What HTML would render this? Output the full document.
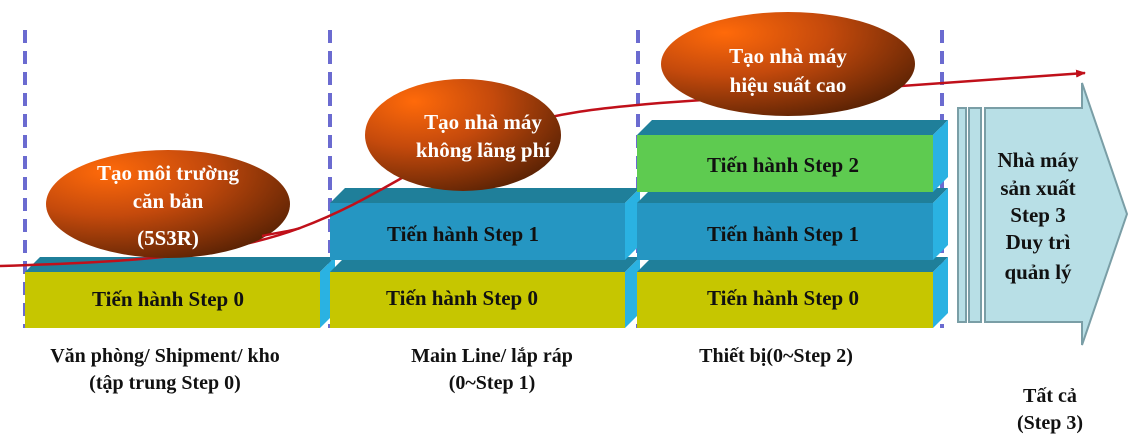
<!DOCTYPE html>
<html><head><meta charset="utf-8"><style>
html,body{margin:0;padding:0;background:#fff;}
svg{display:block;}
text{font-family:"Liberation Serif","Noto Serif CJK SC",serif;font-weight:bold;}
</style></head><body>
<svg width="1141" height="443" viewBox="0 0 1141 443" xmlns="http://www.w3.org/2000/svg">
<defs>
<radialGradient id="eg" cx="0.25" cy="0.2" r="0.9">
<stop offset="0" stop-color="#ff6a0a"/>
<stop offset="0.45" stop-color="#c54a0c"/>
<stop offset="1" stop-color="#5a2204"/>
</radialGradient>
<marker id="ah" markerWidth="10" markerHeight="8" refX="9" refY="4" orient="auto" markerUnits="userSpaceOnUse">
<path d="M0,0 L10,4 L0,8 z" fill="#c0101a"/>
</marker>
</defs>
<g stroke="#6b6bd0" stroke-width="4" stroke-dasharray="13,8">
<line x1="25" y1="30" x2="25" y2="328"/>
<line x1="330" y1="30" x2="330" y2="328"/>
<line x1="638" y1="30" x2="638" y2="328"/>
<line x1="942" y1="30" x2="942" y2="328"/>
</g>
<g>
<polygon points="25,272 40,257 335,257 320,272" fill="#1f7f9a"/>
<polygon points="320,272 335,257 335,313 320,328" fill="#2ab2e2"/>
<rect x="25" y="272" width="295" height="56" fill="#c6c600"/>
<polygon points="330,272 345,257 640,257 625,272" fill="#1f7f9a"/>
<polygon points="625,272 640,257 640,313 625,328" fill="#2ab2e2"/>
<rect x="330" y="272" width="295" height="56" fill="#c6c600"/>
<polygon points="330,203 345,188 640,188 625,203" fill="#1f7f9a"/>
<polygon points="625,203 640,188 640,245 625,260" fill="#2ab2e2"/>
<rect x="330" y="203" width="295" height="57" fill="#2596c2"/>
<polygon points="637,272 652,257 948,257 933,272" fill="#1f7f9a"/>
<polygon points="933,272 948,257 948,313 933,328" fill="#2ab2e2"/>
<rect x="637" y="272" width="296" height="56" fill="#c6c600"/>
<polygon points="637,203 652,188 948,188 933,203" fill="#1f7f9a"/>
<polygon points="933,203 948,188 948,245 933,260" fill="#2ab2e2"/>
<rect x="637" y="203" width="296" height="57" fill="#2596c2"/>
<polygon points="637,135 652,120 948,120 933,135" fill="#1f7f9a"/>
<polygon points="933,135 948,120 948,177 933,192" fill="#2ab2e2"/>
<rect x="637" y="135" width="296" height="57" fill="#5ecb50"/>
</g>
<g font-size="21" fill="#111" text-anchor="middle">
<text x="168" y="306">Tiến hành Step 0</text>
<text x="462" y="305">Tiến hành Step 0</text>
<text x="463" y="241">Tiến hành Step 1</text>
<text x="783" y="305">Tiến hành Step 0</text>
<text x="783" y="241">Tiến hành Step 1</text>
<text x="783" y="172">Tiến hành Step 2</text>
</g>
<g fill="#b8dfe6" stroke="#7a9ea6" stroke-width="2">
<rect x="958" y="108" width="8" height="214"/>
<rect x="969" y="108" width="12" height="214"/>
<polygon points="985,108 1082,108 1082,83 1127,214 1082,345 1082,322 985,322"/>
</g>
<g font-size="21" fill="#111" text-anchor="middle">
<text x="1038" y="167">Nhà máy</text>
<text x="1038" y="195">sản xuất</text>
<text x="1038" y="222">Step 3</text>
<text x="1038" y="249">Duy trì</text>
<text x="1038" y="279">quản lý</text>
</g>
<path d="M0,266 C120,262 220,258 300,228 C380,198 420,160 500,130 C560,112 600,108 660,103 L1085,73" fill="none" stroke="#c0101a" stroke-width="2.5" marker-end="url(#ah)"/>
<ellipse cx="168" cy="204" rx="122" ry="54" fill="url(#eg)"/>
<ellipse cx="463" cy="135" rx="98" ry="56" fill="url(#eg)"/>
<ellipse cx="788" cy="64" rx="127" ry="52" fill="url(#eg)"/>
<path d="M262,236 C280,232 292,231 300,228" fill="none" stroke="#c0101a" stroke-width="2.5"/>
<g font-size="21" fill="#fff" text-anchor="middle">
<text x="168" y="180">Tạo môi trường</text>
<text x="168" y="208">căn bản</text>
<text x="168" y="245">(5S3R)</text>
<text x="483" y="129">Tạo nhà máy</text>
<text x="483" y="157">không lãng phí</text>
<text x="788" y="63">Tạo nhà máy</text>
<text x="788" y="92">hiệu suất cao</text>
</g>
<g font-size="20" fill="#111" text-anchor="middle">
<text x="165" y="362">Văn phòng/ Shipment/ kho</text>
<text x="165" y="389">(tập trung Step 0)</text>
<text x="492" y="362">Main Line/ lắp ráp</text>
<text x="492" y="389">(0~Step 1)</text>
<text x="776" y="362">Thiết bị(0~Step 2)</text>
<text x="1050" y="402">Tất cả</text>
<text x="1050" y="429">(Step 3)</text>
</g>
</svg>
</body></html>
